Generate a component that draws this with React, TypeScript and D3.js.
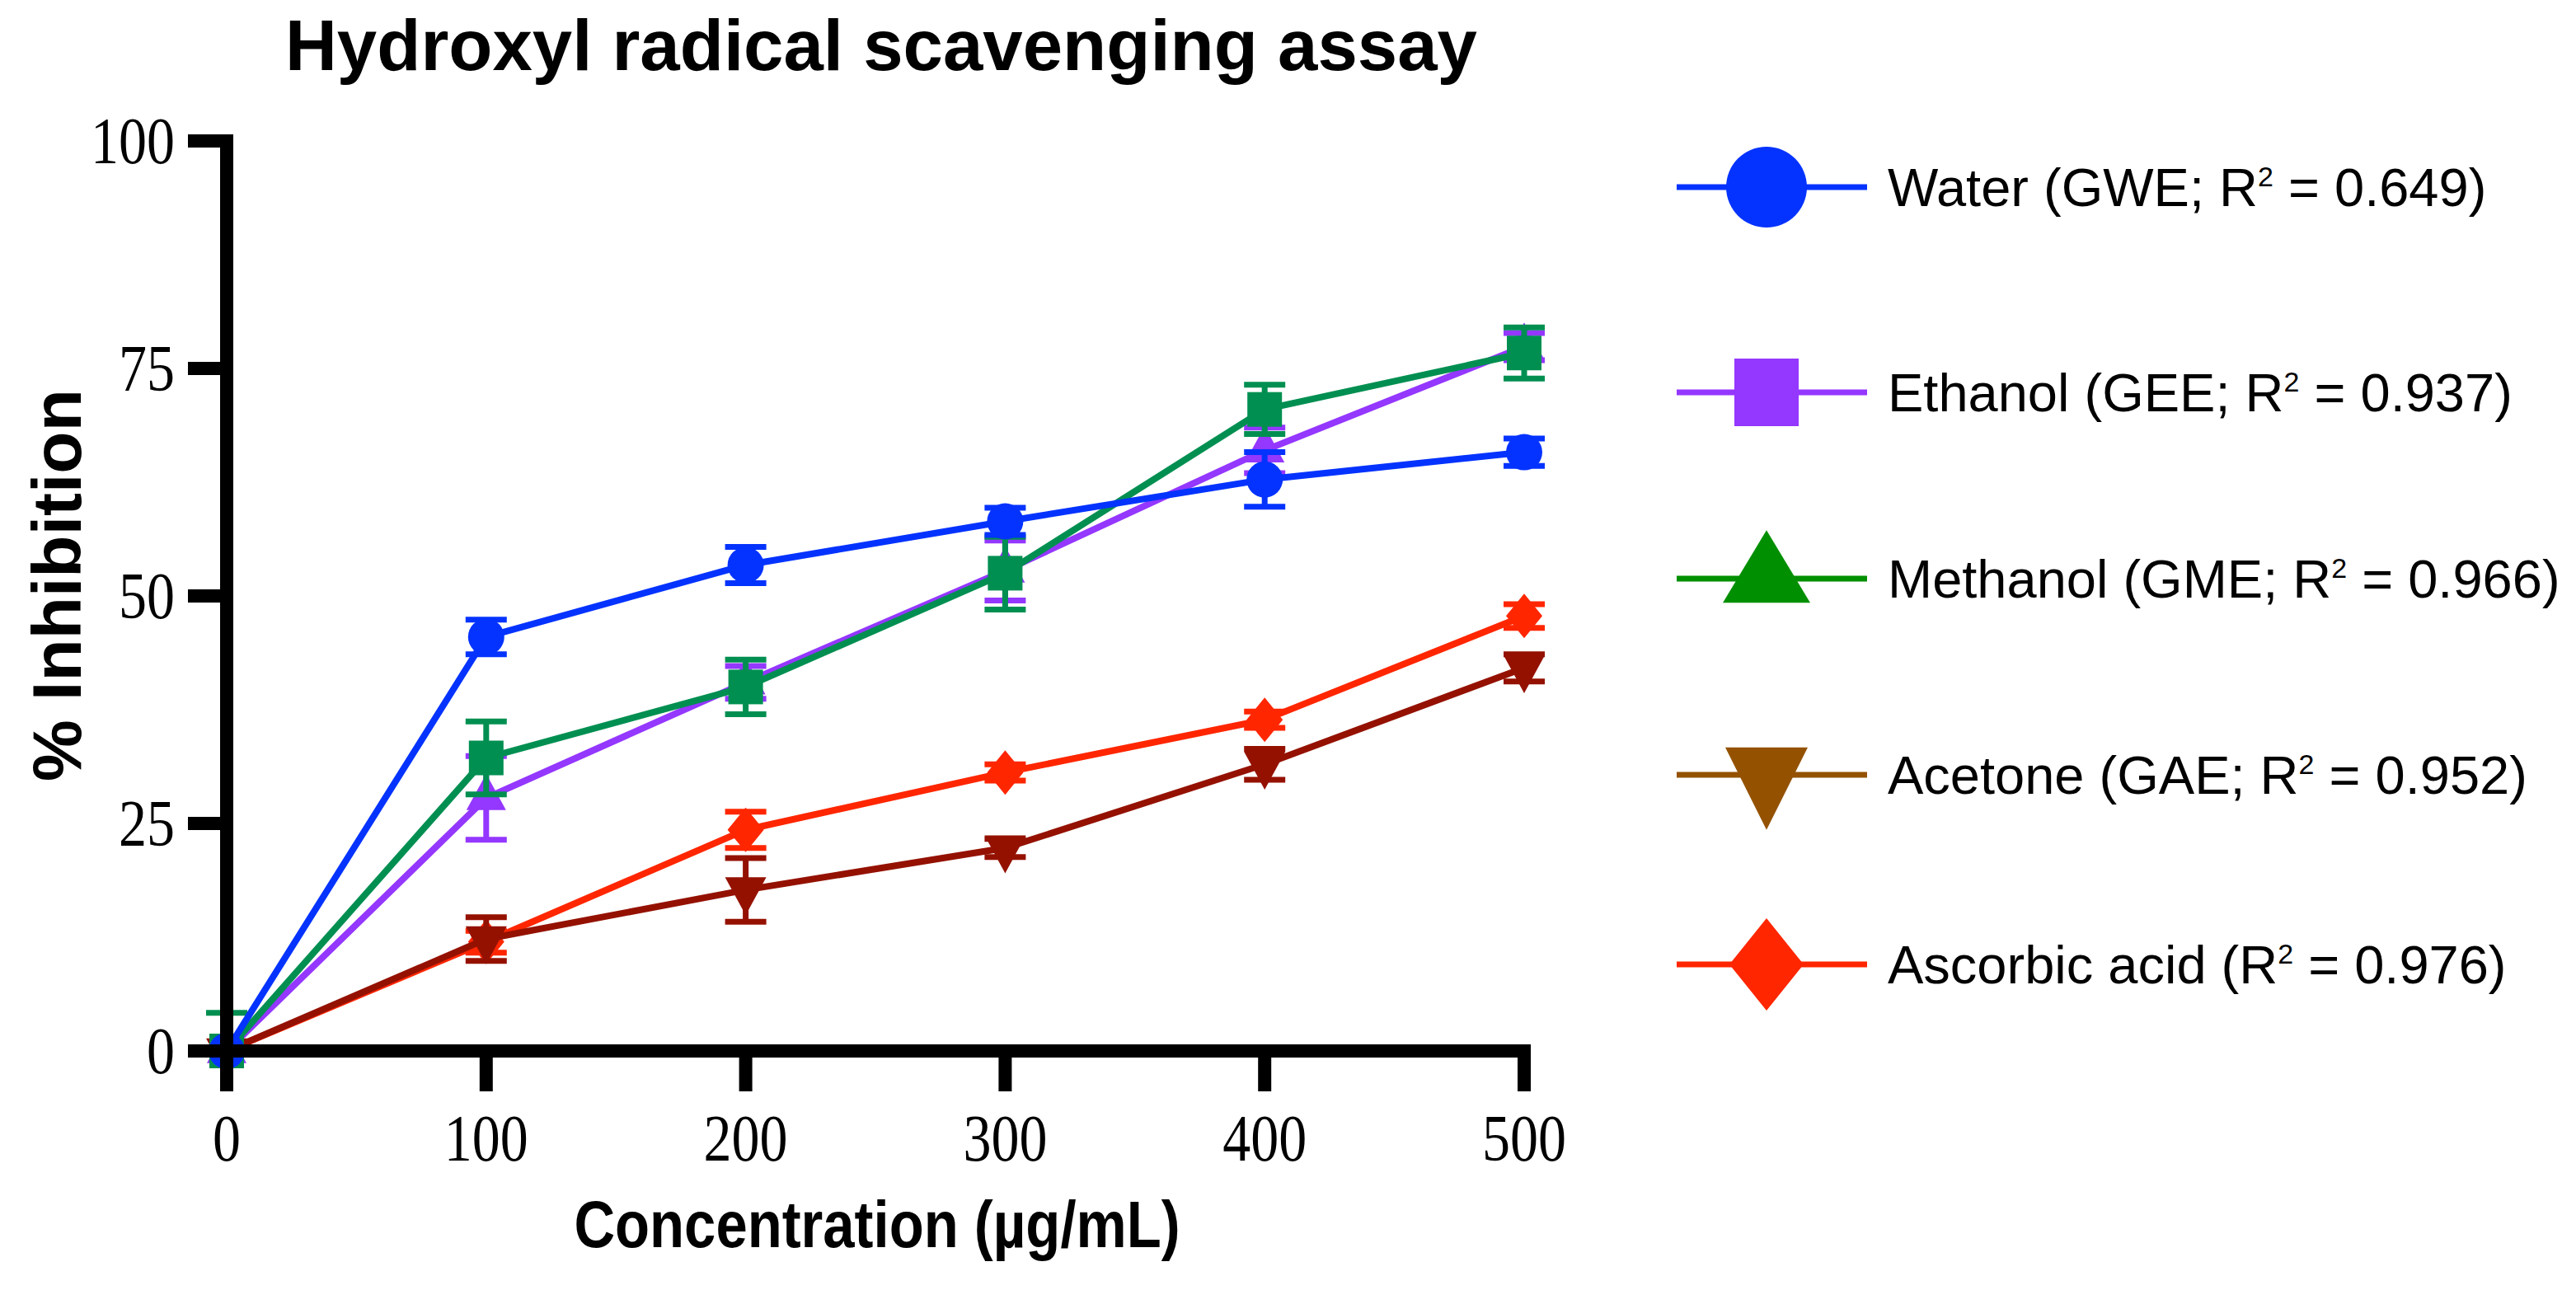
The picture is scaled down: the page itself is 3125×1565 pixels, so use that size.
import React, { useEffect } from 'react';
import * as d3 from 'd3';

// ---------- data ----------
const CONCENTRATIONS = [0, 100, 200, 300, 400, 500];
const X_TICKS = [0, 100, 200, 300, 400, 500];
const Y_TICKS = [0, 25, 50, 75, 100];

const WATER = [0, 45.5, 53.4, 58.2, 62.8, 65.8];
const WATER_ERR = [0, 1.9, 2.0, 1.5, 3.0, 1.5];
const ETHANOL = [0, 27.8, 40.5, 52.8, 66.0, 77.4];
const ETHANOL_ERR = [0, 4.6, 1.8, 3.3, 2.5, 1.5];
const METHANOL = [0, 32.2, 40.0, 52.5, 70.5, 76.7];
const METHANOL_ERR = [4.2, 4.0, 3.0, 4.0, 2.7, 2.8];
const ACETONE = [0, 12.3, 17.7, 22.3, 31.5, 42.1];
const ACETONE_ERR = [0, 2.4, 3.5, 1.0, 1.7, 1.5];
const ASCORBIC = [0, 12.0, 24.3, 30.6, 36.4, 47.8];
const ASCORBIC_ERR = [0, 1.2, 2.0, 0.9, 0.9, 1.3];

const LEGEND_PREFIX = ['Water (GWE; R', 'Ethanol (GEE; R', 'Methanol (GME; R', 'Acetone (GAE; R', 'Ascorbic acid (R'];
const LEGEND_R2 = ['0.649', '0.937', '0.966', '0.952', '0.976'];

const TITLE = 'Hydroxyl radical scavenging assay';
const X_TITLE = 'Concentration (µg/mL)';
const Y_TITLE = '% Inhibition';

type Shape = 'circle' | 'square' | 'triangleUp' | 'triangleDown' | 'diamond';

interface Series {
  values: number[];
  errs: number[];
  plotColor: string;
  legendColor: string;
  plotShape: Shape;
  legendShape: Shape;
  legendIndex: number;
}

const SERIES: Series[] = [
  { values: WATER, errs: WATER_ERR, plotColor: '#0433FF', legendColor: '#0433FF', plotShape: 'circle', legendShape: 'circle', legendIndex: 0 },
  { values: ETHANOL, errs: ETHANOL_ERR, plotColor: '#9437FF', legendColor: '#9437FF', plotShape: 'triangleUp', legendShape: 'square', legendIndex: 1 },
  { values: METHANOL, errs: METHANOL_ERR, plotColor: '#008F51', legendColor: '#008F00', plotShape: 'square', legendShape: 'triangleUp', legendIndex: 2 },
  { values: ACETONE, errs: ACETONE_ERR, plotColor: '#941100', legendColor: '#945200', plotShape: 'triangleDown', legendShape: 'triangleDown', legendIndex: 3 },
  { values: ASCORBIC, errs: ASCORBIC_ERR, plotColor: '#FF2600', legendColor: '#FF2600', plotShape: 'diamond', legendShape: 'diamond', legendIndex: 4 },
];
// plot draw order: ascorbic, acetone, ethanol, methanol, water (water on top)
const DRAW_ORDER = [4, 3, 1, 2, 0];

// ---------- layout ----------
const W = 3125;
const H = 1565;
const SANS = '"Liberation Sans", Arial, sans-serif';
const SERIF = '"Liberation Serif", "Times New Roman", serif';

const x = d3.scaleLinear().domain([0, 500]).range([275, 1849]);
const y = d3.scaleLinear().domain([0, 100]).range([1275, 171]);

function Marker({ shape, cx, cy, w, h, color }: { shape: Shape; cx: number; cy: number; w: number; h: number; color: string }) {
  if (shape === 'circle') return <ellipse cx={cx} cy={cy} rx={w} ry={h} fill={color} />;
  if (shape === 'square') return <rect x={cx - w} y={cy - h} width={2 * w} height={2 * h} fill={color} />;
  let pts: [number, number][] = [];
  if (shape === 'triangleUp') pts = [[cx, cy - (2 * h) / 3], [cx + w, cy + h / 3], [cx - w, cy + h / 3]];
  if (shape === 'triangleDown') pts = [[cx - w, cy - h / 3], [cx + w, cy - h / 3], [cx, cy + (2 * h) / 3]];
  if (shape === 'diamond') pts = [[cx, cy - h], [cx + w, cy], [cx, cy + h], [cx - w, cy]];
  return <polygon points={pts.map((p) => p.join(',')).join(' ')} fill={color} />;
}

const PLOT_SIZE: Record<Shape, [number, number]> = {
  circle: [22, 22],
  square: [21, 21],
  triangleUp: [24, 44],
  triangleDown: [25, 46],
  diamond: [22, 27],
};
const LEGEND_SIZE: Record<Shape, [number, number]> = {
  circle: [49, 49],
  square: [39, 41],
  triangleUp: [53, 88],
  triangleDown: [50, 100],
  diamond: [45, 56],
};
const LEGEND_Y = [227, 476, 702, 940, 1170];

export default function App() {
  useEffect(() => {
    document.body.style.margin = '0';
  }, []);

  const line = d3
    .line<number>()
    .x((_, i) => x(CONCENTRATIONS[i]))
    .y((d) => y(d));

  return (
    <svg width={W} height={H} viewBox={`0 0 ${W} ${H}`} style={{ display: 'block', background: '#fff' }}>
      <rect x={0} y={0} width={W} height={H} fill="#fff" />
      {/* title */}
      <text x={1069} y={85} textAnchor="middle" fontFamily={SANS} fontWeight="bold" fontSize={87} fill="#000">
        {TITLE}
      </text>

      {/* data */}
      {DRAW_ORDER.map((si) => {
        const s = SERIES[si];
        const [mw, mh] = PLOT_SIZE[s.plotShape];
        return (
          <g key={si}>
            <path d={line(s.values) || ''} fill="none" stroke={s.plotColor} strokeWidth={8} strokeLinejoin="round" />
            {s.values.map((v, i) => {
              const e = s.errs[i];
              if (!e) return null;
              const cx = x(CONCENTRATIONS[i]);
              const lo = v - e;
              const loClipped = lo < 0;
              return (
                <g key={i} stroke={s.plotColor} strokeWidth={7}>
                  <line x1={cx} x2={cx} y1={y(v + e)} y2={y(Math.max(lo, 0))} />
                  <line x1={cx - 25} x2={cx + 25} y1={y(v + e)} y2={y(v + e)} />
                  {!loClipped && <line x1={cx - 25} x2={cx + 25} y1={y(lo)} y2={y(lo)} />}
                </g>
              );
            })}
            {s.values.map((v, i) => (
              <Marker key={'m' + i} shape={s.plotShape} cx={x(CONCENTRATIONS[i])} cy={y(v)} w={mw} h={mh} color={s.plotColor} />
            ))}
          </g>
        );
      })}

      {/* axes */}
      <g stroke="#000" strokeWidth={16} strokeLinecap="butt">
        <line x1={x(0)} x2={x(0)} y1={y(100) - 8} y2={1324} />
        <line x1={x(0) - 8} x2={x(500) + 8} y1={y(0)} y2={y(0)} />
        {Y_TICKS.map((t) => (
          <line key={'yt' + t} x1={228} x2={x(0)} y1={y(t)} y2={y(t)} />
        ))}
        {X_TICKS.filter((t) => t > 0).map((t) => (
          <line key={'xt' + t} x1={x(t)} x2={x(t)} y1={y(0)} y2={1324} />
        ))}
      </g>
      {Y_TICKS.map((t) => (
        <g key={'yl' + t} transform={`translate(212, ${y(t) + 27}) scale(0.85, 1)`}>
          <text x={0} y={0} textAnchor="end" fontFamily={SERIF} fontSize={80} fill="#000">
            {t}
          </text>
        </g>
      ))}
      {X_TICKS.map((t) => (
        <g key={'xl' + t} transform={`translate(${x(t)}, 1408) scale(0.85, 1)`}>
          <text x={0} y={0} textAnchor="middle" fontFamily={SERIF} fontSize={80} fill="#000">
            {t}
          </text>
        </g>
      ))}
      <g transform="translate(1064, 1513) scale(0.86, 1)">
        <text x={0} y={0} textAnchor="middle" fontFamily={SANS} fontWeight="bold" fontSize={80} fill="#000">
          {X_TITLE}
        </text>
      </g>
      <text
        transform="translate(98, 710) rotate(-90)"
        textAnchor="middle"
        fontFamily={SANS}
        fontWeight="bold"
        fontSize={84}
        fill="#000"
      >
        {Y_TITLE}
      </text>

      {/* legend */}
      {SERIES.map((s) => {
        const ly = LEGEND_Y[s.legendIndex];
        const [mw, mh] = LEGEND_SIZE[s.legendShape];
        return (
          <g key={'lg' + s.legendIndex}>
            <line x1={2034} x2={2265} y1={ly} y2={ly} stroke={s.legendColor} strokeWidth={7} />
            <Marker shape={s.legendShape} cx={2143} cy={ly} w={mw} h={mh} color={s.legendColor} />
            <text x={2290} y={ly + 23} fontFamily={SANS} fontSize={65} fill="#000">
              <tspan>{LEGEND_PREFIX[s.legendIndex]}</tspan>
              <tspan dy={-24} fontSize={34}>2</tspan>
              <tspan dy={24}>{' = ' + LEGEND_R2[s.legendIndex] + ')'}</tspan>
            </text>
          </g>
        );
      })}
    </svg>
  );
}
